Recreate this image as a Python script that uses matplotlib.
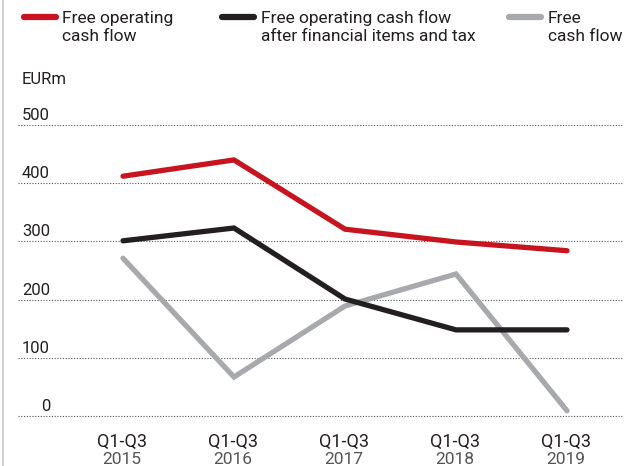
import matplotlib
matplotlib.use("Agg")
import matplotlib.pyplot as plt
import matplotlib.transforms as mtrans
from matplotlib.lines import Line2D

plt.rcParams['font.family'] = ['Roboto', 'DejaVu Sans']

periods = ["Q1-Q3", "Q1-Q3", "Q1-Q3", "Q1-Q3", "Q1-Q3"]
years = ["2015", "2016", "2017", "2018", "2019"]
free_operating_cf = [412, 440, 321, 299, 284]
after_fin_tax = [301, 323, 201, 148, 148]
free_cf = [271, 67, 189, 244, 9]
yticks = [0, 100, 200, 300, 400, 500]

RED = "#c8141e"
BLACK = "#231f20"
GRAY = "#a7a9ac"
TXT = "#231f20"

W, H = 637, 466
fig = plt.figure(figsize=(W / 100, H / 100), dpi=100)

# axes: left 18px to right 622px, y 0 at 416px, 500 at 125px
ax_l, ax_r, ax_b, ax_t = 18, 622, 416, 125
ax = fig.add_axes([ax_l / W, (H - ax_b) / H, (ax_r - ax_l) / W, (ax_b - ax_t) / H])
px_per_x = 111.0
x0 = 123
ax.set_xlim((ax_l - x0) / px_per_x, (ax_r - x0) / px_per_x)
ax.set_ylim(0, 500)
ax.axis('off')

px_per_val = (ax_b - ax_t) / 500.0
blend = mtrans.blended_transform_factory(ax.transAxes, ax.transData)
for v in yticks:
    ax.axhline(v, color="#555555", lw=0.8, ls=(0, (1, 1.5)), zorder=1, clip_on=False)
    ax.text((50 - ax_l) / (ax_r - ax_l), v + 5 / px_per_val, str(v), transform=blend,
            ha='right', va='baseline', fontsize=12, color=TXT)

xs = list(range(len(years)))
for data, col in [(free_cf, GRAY), (after_fin_tax, BLACK), (free_operating_cf, RED)]:
    ax.plot(xs, data, color=col, lw=3.8, solid_capstyle='round', solid_joinstyle='miter',
            zorder=3, clip_on=False)

# x labels
for i, (p, y) in enumerate(zip(periods, years)):
    xf = (x0 - 1 + i * px_per_x) / W
    fig.text(xf, 1 - 447 / H, p, ha='center', va='baseline', fontsize=13, color=TXT)
    fig.text(xf, 1 - 464 / H, y, ha='center', va='baseline', fontsize=12.5, color="#555555")

# EURm
fig.text(22 / W, 1 - 84 / H, "EURm", ha='left', va='baseline', fontsize=12, color=TXT)

# legend
leg = [(RED, 24, 56, 62, "Free operating", "cash flow"),
       (BLACK, 222, 254, 261, "Free operating cash flow", "after financial items and tax"),
       (GRAY, 509, 541, 548, "Free", "cash flow")]
for col, a, b, tx, l1, l2 in leg:
    fig.add_artist(Line2D([a / W, b / W], [1 - 17 / H, 1 - 17 / H], color=col, lw=4.5,
                          solid_capstyle='round', transform=fig.transFigure))
    fig.text(tx / W, 1 - 23 / H, l1, ha='left', va='baseline', fontsize=12.5, color=TXT)
    fig.text(tx / W, 1 - 41 / H, l2, ha='left', va='baseline', fontsize=12.5, color=TXT)

# left border line
fig.add_artist(Line2D([2.5 / W, 2.5 / W], [0, 1], color="#c8c8c8", lw=1.2, transform=fig.transFigure))

fig.savefig("out.png", dpi=100)
